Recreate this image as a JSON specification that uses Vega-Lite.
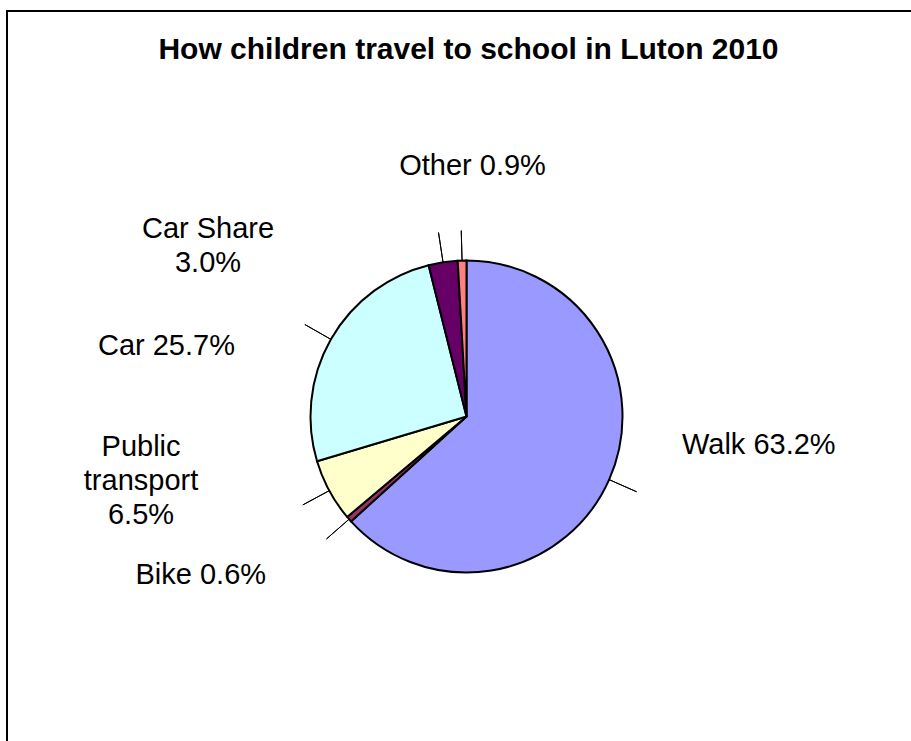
{
  "$schema": "https://vega.github.io/schema/vega-lite/v6.json",
  "width": 919,
  "height": 811,
  "autosize": {"type": "none"},
  "padding": {"left": 7, "top": 11, "right": 0, "bottom": 0},
  "background": "white",
  "view": {"stroke": "black", "strokeWidth": 2, "fill": "white"},
  "config": {"view": {"stroke": "black", "strokeWidth": 2}},
  "title": {
    "text": "How children travel to school in Luton 2010",
    "font": "Liberation Sans",
    "fontSize": 30,
    "fontWeight": "bold",
    "color": "black",
    "anchor": "middle",
    "frame": "group",
    "offset": -54,
    "dx": 2
  },
  "data": {
    "values": [
      {"mode": "Walk", "pct": 63.2, "label": "Walk 63.2%"},
      {"mode": "Bike", "pct": 0.6, "label": "Bike 0.6%"},
      {"mode": "Public transport", "pct": 6.5, "label": "Public\ntransport\n6.5%"},
      {"mode": "Car", "pct": 25.7, "label": "Car 25.7%"},
      {"mode": "Car Share", "pct": 3.0, "label": "Car Share\n3.0%"},
      {"mode": "Other", "pct": 0.9, "label": "Other 0.9%"}
    ]
  },
  "transform": [{"window": [{"op": "row_number", "as": "idx"}]}],
  "resolve": {"scale": {"theta": "independent"}},
  "layer": [
    {
      "mark": {"type": "arc", "radius": 156, "stroke": "black", "strokeWidth": 2},
      "encoding": {
        "theta": {"field": "pct", "type": "quantitative", "stack": true},
        "order": {"field": "idx", "type": "quantitative"},
        "color": {
          "field": "mode",
          "type": "nominal",
          "legend": null,
          "scale": {
            "domain": ["Walk", "Bike", "Public transport", "Car", "Car Share", "Other"],
            "range": ["#9999FF", "#993366", "#FFFFCC", "#CCFFFF", "#660066", "#FF8080"]
          }
        }
      }
    },
    {
      "transform": [
        {"fold": ["pct", "pct"], "as": ["k", "v"]},
        {"stack": "v", "groupby": [], "sort": [{"field": "idx", "order": "ascending"}], "as": ["s0", "s1"]},
        {"window": [{"op": "row_number", "as": "copy"}], "groupby": ["mode"], "sort": [{"field": "s0", "order": "ascending"}]},
        {"filter": "datum.copy === 1"}
      ],
      "encoding": {
        "theta": {"field": "s1", "type": "quantitative", "stack": null, "scale": {"domain": [0, 199.8]}}
      },
      "layer": [
        {
          "mark": {"type": "arc", "radius": 186, "radius2": 156, "stroke": "black", "strokeWidth": 1, "fillOpacity": 0},
          "encoding": {"theta2": {"field": "s1"}}
        },
        {
          "transform": [{"filter": {"field": "mode", "equal": "Walk"}}],
          "mark": {"type": "text", "radius": 200, "align": "left", "baseline": "middle", "dx": 32.6, "dy": -52.8, "font": "Liberation Sans", "fontSize": 29, "color": "black", "lineBreak": "\n", "lineHeight": 34},
          "encoding": {"text": {"field": "label"}}
        },
        {
          "transform": [{"filter": {"field": "mode", "equal": "Bike"}}],
          "mark": {"type": "text", "radius": 200, "align": "right", "baseline": "middle", "dx": -49.9, "dy": 26.5, "font": "Liberation Sans", "fontSize": 29, "color": "black", "lineBreak": "\n", "lineHeight": 34},
          "encoding": {"text": {"field": "label"}}
        },
        {
          "transform": [{"filter": {"field": "mode", "equal": "Public transport"}}],
          "mark": {"type": "text", "radius": 200, "align": "center", "baseline": "middle", "dx": -149.5, "dy": -65, "font": "Liberation Sans", "fontSize": 29, "color": "black", "lineBreak": "\n", "lineHeight": 34},
          "encoding": {"text": {"field": "label"}}
        },
        {
          "transform": [{"filter": {"field": "mode", "equal": "Car"}}],
          "mark": {"type": "text", "radius": 200, "align": "right", "baseline": "middle", "dx": -57.7, "dy": 28.4, "font": "Liberation Sans", "fontSize": 29, "color": "black", "lineBreak": "\n", "lineHeight": 34},
          "encoding": {"text": {"field": "label"}}
        },
        {
          "transform": [{"filter": {"field": "mode", "equal": "Car Share"}}],
          "mark": {"type": "text", "radius": 200, "align": "center", "baseline": "middle", "dx": -228.4, "dy": 10.5, "font": "Liberation Sans", "fontSize": 29, "color": "black", "lineBreak": "\n", "lineHeight": 34},
          "encoding": {"text": {"field": "label"}}
        },
        {
          "transform": [{"filter": {"field": "mode", "equal": "Other"}}],
          "mark": {"type": "text", "radius": 200, "align": "center", "baseline": "middle", "dx": 11.7, "dy": -51, "font": "Liberation Sans", "fontSize": 29, "color": "black", "lineBreak": "\n", "lineHeight": 34},
          "encoding": {"text": {"field": "label"}}
        }
      ]
    }
  ]
}
